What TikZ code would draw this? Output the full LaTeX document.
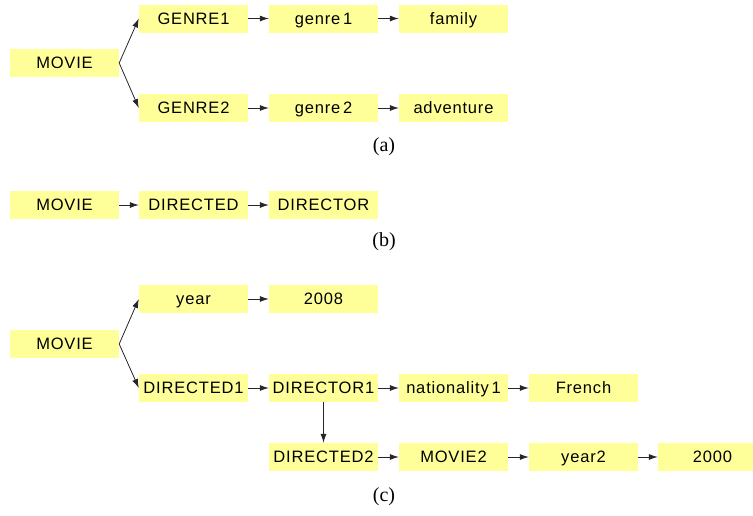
\documentclass[tikz,border=0pt]{standalone}
\usepackage{fontspec}
\setmainfont{Liberation Serif}
\newfontfamily\boxfont[LetterSpace=5]{Liberation Sans}
\usetikzlibrary{arrows.meta}
\definecolor{boxyellow}{HTML}{FFFF99}
\begin{document}
\begin{tikzpicture}[x=1pt,y=-1pt,
  kbox/.style={fill=boxyellow,draw=none,minimum width=109pt,minimum height=28pt,inner sep=0pt,
    text height=11.5pt,text depth=0pt,
    font=\boxfont\fontsize{16.5}{19}\selectfont},
  captext/.style={font=\fontsize{20}{22}\selectfont,inner sep=0pt},
  arr/.style={-{Latex[length=9pt,width=6pt]},line width=0.8pt,black!85}]
\useasboundingbox (0,0) rectangle (753,515);
% (a)
\node[kbox] (am) at (64.5,63) {MOVIE};
\node[kbox] (ag1) at (193.5,18.5) {GENRE1};
\node[kbox] (ag2) at (193.5,108) {GENRE2};
\node[kbox] (al1) at (323.5,18.5) {genre\,1};
\node[kbox] (al2) at (323.5,108) {genre\,2};
\node[kbox] (av1) at (453.5,18.5) {family};
\node[kbox] (av2) at (453.5,108) {adventure};
\node[captext] (capa) at (384,147) {(a)};
\draw[arr] (am.east) -- (ag1.west);
\draw[arr] (am.east) -- (ag2.west);
\draw[arr] (ag1) -- (al1);
\draw[arr] (al1) -- (av1);
\draw[arr] (ag2) -- (al2);
\draw[arr] (al2) -- (av2);
% (b)
\node[kbox] (bm) at (64.5,205) {MOVIE};
\node[kbox] (bd) at (193.5,205) {DIRECTED};
\node[kbox] (br) at (323.5,205) {DIRECTOR};
\node[captext] (capb) at (384,242) {(b)};
\draw[arr] (bm) -- (bd);
\draw[arr] (bd) -- (br);
% (c)
\node[kbox] (cm) at (64.5,344) {MOVIE};
\node[kbox] (cy) at (193.5,299) {year};
\node[kbox] (cyv) at (323.5,299) {2008};
\node[kbox] (cd1) at (193.5,388) {DIRECTED1};
\node[kbox] (cr1) at (323.5,388) {DIRECTOR1};
\node[kbox] (cn1) at (453.5,388) {nationality\,1};
\node[kbox] (cf) at (583.5,388) {French};
\node[kbox] (cd2) at (323.5,457) {DIRECTED2};
\node[kbox] (cm2) at (453.5,457) {MOVIE2};
\node[kbox] (cy2) at (583.5,457) {year2};
\node[kbox] (cyv2) at (712.5,457) {2000};
\node[captext] (capc) at (384,497) {(c)};
\draw[arr] (cm.east) -- (cy.west);
\draw[arr] (cm.east) -- (cd1.west);
\draw[arr] (cy) -- (cyv);
\draw[arr] (cd1) -- (cr1);
\draw[arr] (cr1) -- (cn1);
\draw[arr] (cn1) -- (cf);
\draw[arr] (cr1) -- (cd2);
\draw[arr] (cd2) -- (cm2);
\draw[arr] (cm2) -- (cy2);
\draw[arr] (cy2) -- (cyv2);
\end{tikzpicture}
\end{document}
